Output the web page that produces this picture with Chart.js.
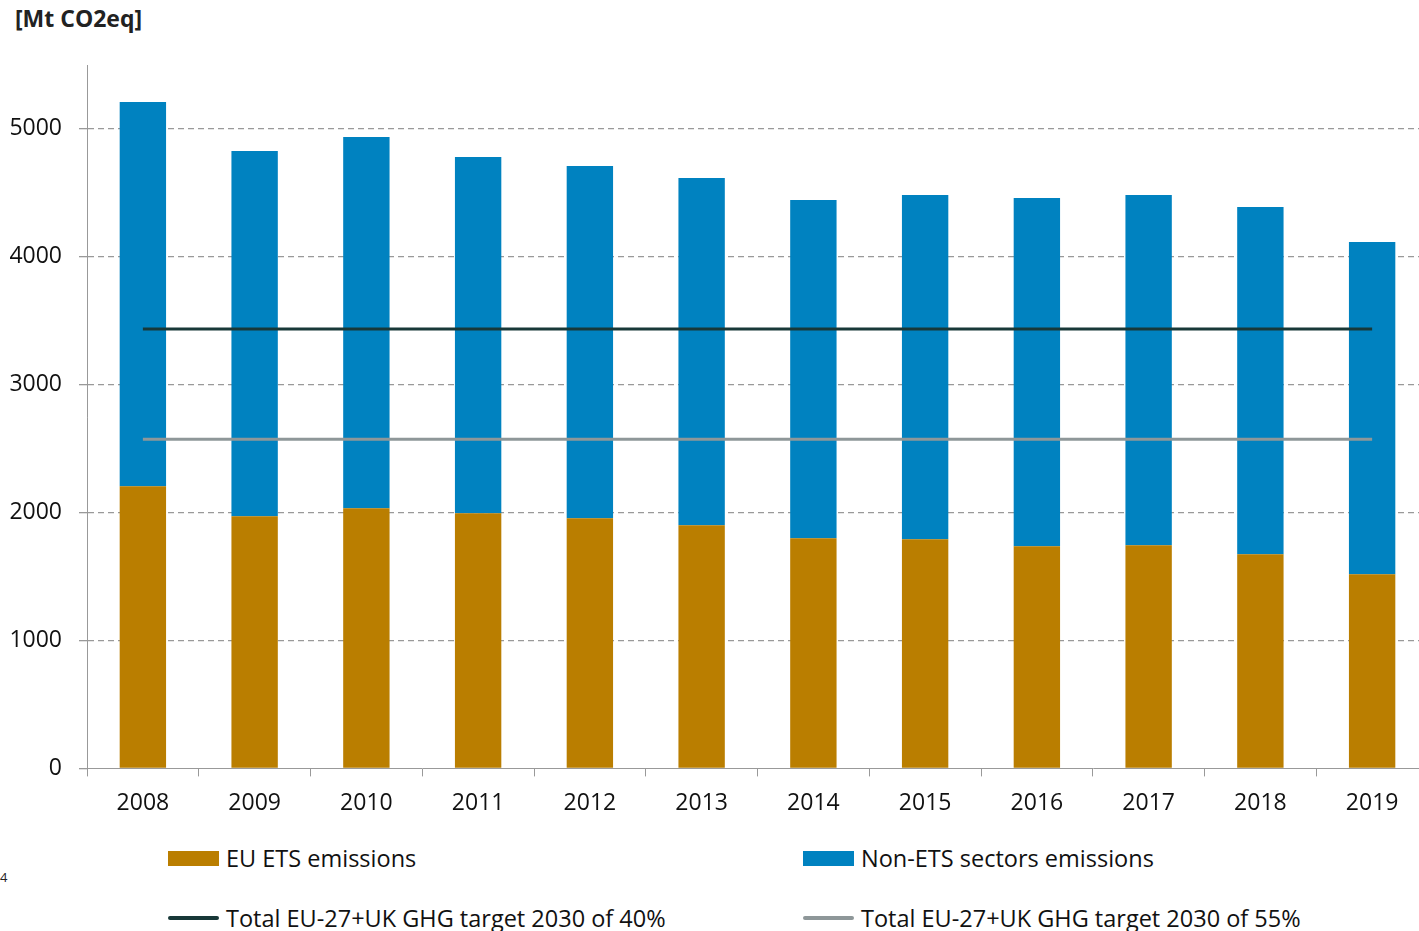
<!DOCTYPE html>
<html>
<head>
<meta charset="utf-8">
<script src="https://cdn.jsdelivr.net/npm/chart.js@4.4.0/dist/chart.umd.min.js"></script>
<style>
  html, body { margin: 0; padding: 0; background: #fff; }
  body { width: 1419px; height: 931px; position: relative; overflow: hidden; font-family: "Open Sans", sans-serif; }
  #wrap { position: absolute; left: 0; top: 0; width: 1428px; height: 830px; }
  #unit { position: absolute; left: 15px; top: 2px; font-weight: bold; font-size: 23px; color: #222; }
  #note { position: absolute; left: 0; top: 868px; font-size: 13px; color: #222; }
  .leg { position: absolute; display: flex; align-items: center; font-size: 23.5px; color: #111; white-space: nowrap; }
  .leg .sw { width: 51px; margin-right: 7px; }
</style>
</head>
<body>
<div id="unit">[Mt CO2eq]</div>
<div id="wrap"><canvas id="chart"></canvas></div>
<div id="note">4</div>
<div id="legend"></div>
<script>
// emissions per year, Mt CO2eq
const years = ["2008", "2009", "2010", "2011", "2012", "2013", "2014", "2015", "2016", "2017", "2018", "2019"];
const etsEmissions = [2207, 1972, 2034, 1995, 1956, 1901, 1800, 1792, 1737, 1745, 1675, 1518];
const nonEtsEmissions = [3004, 2856, 2903, 2786, 2754, 2716, 2644, 2692, 2723, 2739, 2715, 2598];
const target40 = 3435;
const target55 = 2574;
const yTicks = [0, 1000, 2000, 3000, 4000, 5000];

const gold = "#BA7E00";
const blue = "#0082C0";
const dark = "#183838";
const grey = "#8E9799";

const ctx = document.getElementById("chart").getContext("2d");
const chart = new Chart(ctx, {
  type: "bar",
  data: {
    labels: years,
    datasets: [
      {
        type: "line",
        label: "Total EU-27+UK GHG target 2030 of 40%",
        data: years.map(() => target40),
        borderColor: dark,
        backgroundColor: dark,
        borderWidth: 3,
        pointRadius: 0,
        stack: "t40",
        order: 0,
      },
      {
        type: "line",
        label: "Total EU-27+UK GHG target 2030 of 55%",
        data: years.map(() => target55),
        borderColor: grey,
        backgroundColor: grey,
        borderWidth: 3,
        pointRadius: 0,
        stack: "t55",
        order: 0,
      },
      {
        label: "EU ETS emissions",
        data: etsEmissions,
        backgroundColor: gold,
        stack: "s",
        order: 1,
      },
      {
        label: "Non-ETS sectors emissions",
        data: nonEtsEmissions,
        backgroundColor: blue,
        stack: "s",
        order: 1,
      },
    ],
  },
  options: {
    responsive: true,
    maintainAspectRatio: false,
    animation: false,
    layout: { padding: { top: 65, right: 0, left: 0, bottom: 0 } },
    datasets: { bar: { categoryPercentage: 1, barPercentage: 0.415, grouped: false } },
    plugins: {
      legend: { display: false },
      tooltip: { enabled: false },
    },
    scales: {
      x: {
        stacked: true,
        offset: true,
        grid: {
          offset: true,
          drawOnChartArea: false,
          tickLength: 8,
          color: "#999",
        },
        border: { color: "#999", width: 1 },
        ticks: {
          color: "#111",
          font: { family: "Open Sans", size: 23 },
          padding: 13,
          maxRotation: 0,
        },
      },
      y: {
        stacked: true,
        min: 0,
        max: 5500,
        afterBuildTicks: (scale) => {
          scale.ticks = yTicks.map((v) => ({ value: v }));
        },
        afterFit: (scale) => { scale.width = 87; },
        grid: {
          color: (c) => (c.tick && c.tick.value === 0 ? "rgba(0,0,0,0)" : "#999"),
          lineWidth: 1.3,
          tickLength: 8,
          tickColor: "#999",
          tickBorderDash: [],
        },
        border: { color: "#999", width: 1, dash: [6, 4] },
        ticks: {
          color: "#111",
          font: { family: "Open Sans", size: 23 },
          padding: 17,
          callback: (v) => String(v),
        },
      },
    },
  },
});

// two-column legend below the chart, built from the datasets
const legendSlots = [
  { ds: 2, left: 168, top: 842, kind: "box" },
  { ds: 3, left: 803, top: 842, kind: "box" },
  { ds: 0, left: 168, top: 902, kind: "line" },
  { ds: 1, left: 803, top: 902, kind: "line" },
];
const legendEl = document.getElementById("legend");
legendSlots.forEach((slot) => {
  const d = chart.data.datasets[slot.ds];
  const item = document.createElement("div");
  item.className = "leg";
  item.style.left = slot.left + "px";
  item.style.top = slot.top + "px";
  const sw = document.createElement("span");
  sw.className = "sw";
  sw.style.height = slot.kind === "box" ? "15px" : "4px";
  sw.style.background = slot.kind === "box" ? d.backgroundColor : d.borderColor;
  if (slot.kind === "line") sw.style.borderRadius = "2px";
  const txt = document.createElement("span");
  txt.textContent = d.label;
  item.appendChild(sw);
  item.appendChild(txt);
  legendEl.appendChild(item);
});
</script>
</body>
</html>
